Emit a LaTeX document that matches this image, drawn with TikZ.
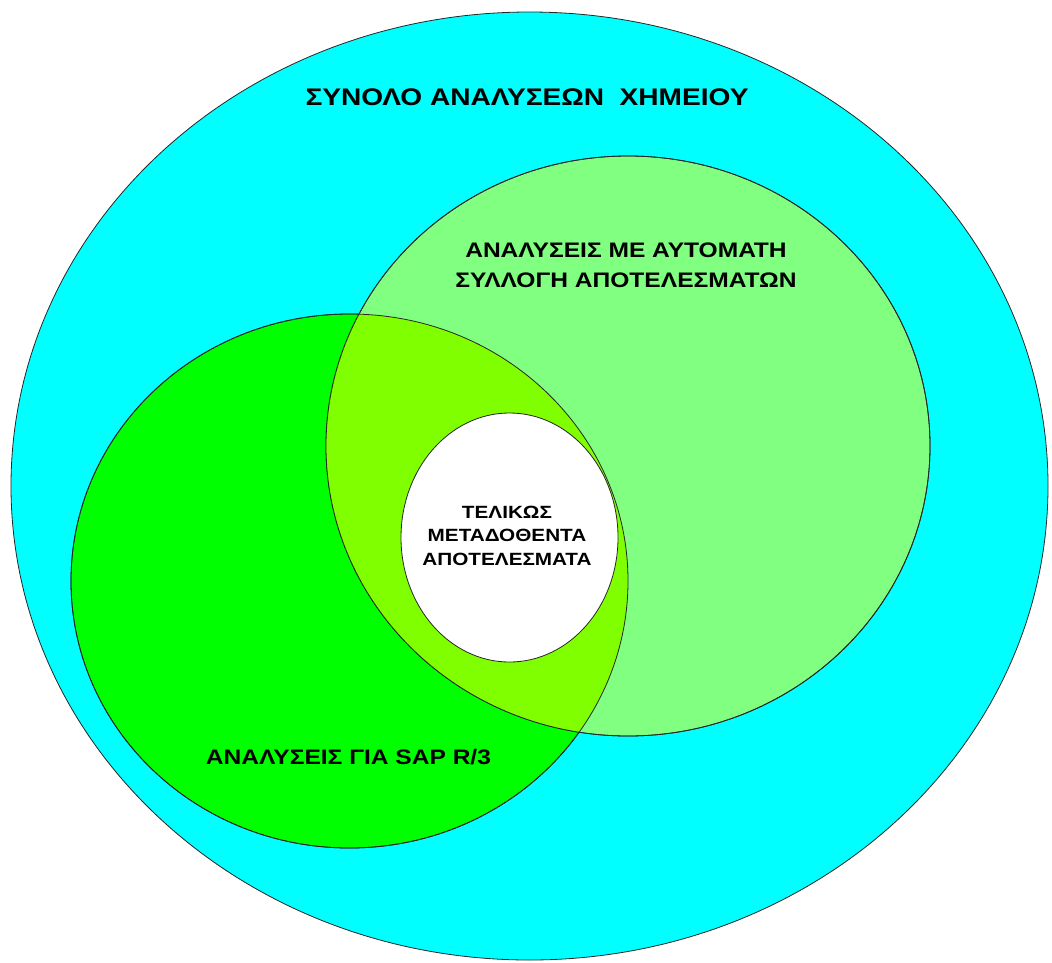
\documentclass[tikz,border=0pt]{standalone}
\usepackage{fontspec}
\setmainfont{Liberation Sans}
\newfontfamily\widesans[FakeStretch=1.17]{Liberation Sans}
\definecolor{setcyan}{HTML}{00FFFF}
\definecolor{autogreen}{HTML}{80FF80}
\definecolor{sapgreen}{HTML}{00FF00}
\definecolor{bothgreen}{HTML}{80FF00}
\tikzset{
  setline/.style={draw=black!85, line width=0.8pt},
  setlabel/.style={font=\widesans\bfseries\fontsize{21}{30}\selectfont, align=center, inner sep=0pt},
  titlelabel/.style={font=\widesans\bfseries\fontsize{24}{30}\selectfont, inner sep=0pt},
  smalllabel/.style={font=\widesans\bfseries\fontsize{17.7}{23.5}\selectfont, align=center, inner sep=0pt}
}
\begin{document}
\begin{tikzpicture}[x=1pt, y=-1pt]
\useasboundingbox (0,0) rectangle (1052,962) ;
\draw[setline, fill=setcyan] (529.5,486) ellipse[x radius=518.5, y radius=474] ;
\draw[setline, fill=sapgreen] (349.5,581) ellipse[x radius=278.5, y radius=267] ;
\draw[setline, fill=autogreen] (628,446) ellipse[x radius=302, y radius=290] ;
\begin{scope}
\clip (349.5,581) ellipse[x radius=278.5, y radius=267] ;
\fill[bothgreen] (628,446) ellipse[x radius=302, y radius=290] ;
\end{scope}
\draw[setline] (349.5,581) ellipse[x radius=278.5, y radius=267] ;
\draw[setline] (628,446) ellipse[x radius=302, y radius=290] ;
\draw[setline, fill=white] (509.5,537.5) ellipse[x radius=108.5, y radius=124.5] ;
\node[titlelabel] (total) at (527,97) {ΣΥΝΟΛΟ ΑΝΑΛΥΣΕΩΝ \ ΧΗΜΕΙΟΥ} ;
\node[setlabel] (auto) at (626,265.5) {ΑΝΑΛΥΣΕΙΣ ΜΕ ΑΥΤΟΜΑΤΗ\\ΣΥΛΛΟΓΗ ΑΠΟΤΕΛΕΣΜΑΤΩΝ} ;
\node[setlabel] (sap) at (348.5,757.5) {ΑΝΑΛΥΣΕΙΣ ΓΙΑ SAP R/3} ;
\node[smalllabel] (final) at (507,535.5) {ΤΕΛΙΚΩΣ\\ΜΕΤΑΔΟΘΕΝΤΑ\\ΑΠΟΤΕΛΕΣΜΑΤΑ} ;
\end{tikzpicture}
\end{document}
